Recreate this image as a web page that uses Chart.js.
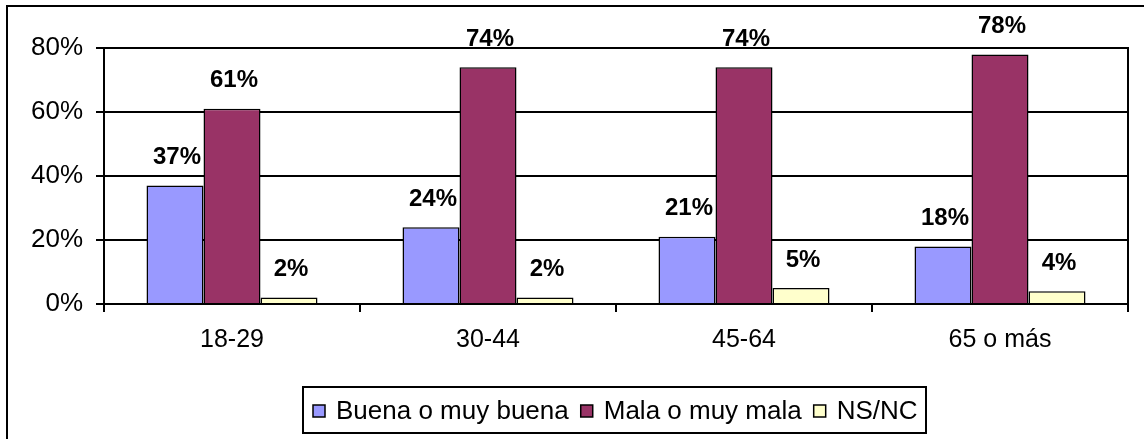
<!DOCTYPE html>
<html>
<head>
<meta charset="utf-8">
<script src="https://cdn.jsdelivr.net/npm/chart.js@4/dist/chart.umd.min.js"></script>
<style>
  html, body { margin: 0; padding: 0; background: #fff; }
  #wrap { width: 1144px; height: 439px; }
</style>
</head>
<body>
<div id="wrap"><canvas id="chart" width="1144" height="439"></canvas></div>
<script>
const categories = ['18-29', '30-44', '45-64', '65 o más'];
const seriesNames = ['Buena o muy buena', 'Mala o muy mala', 'NS/NC'];
const buena = [37, 24, 21, 18];
const mala = [61, 74, 74, 78];
const nsnc = [2, 2, 5, 4];
const yTicks = [0, 20, 40, 60, 80];
const colors = ['#9999FF', '#993366', '#FFFFCC'];

const FONT = 'Arial, "Liberation Sans", sans-serif';

// outer frame, right border of plot, value labels and boxed legend
const extras = {
  id: 'extras',
  beforeDraw(chart) {
    const ctx = chart.ctx;
    ctx.save();
    ctx.fillStyle = '#fff';
    ctx.fillRect(0, 0, chart.width, chart.height);
    ctx.strokeStyle = '#000';
    ctx.lineWidth = 2;
    ctx.strokeRect(7, 6, chart.width + 20, chart.height + 20);
    ctx.restore();
  },
  afterDatasetsDraw(chart) {
    const ctx = chart.ctx;
    const area = chart.chartArea;
    ctx.save();
    ctx.strokeStyle = '#000';
    ctx.lineWidth = 2;
    ctx.beginPath();
    ctx.moveTo(area.right, area.top - 1);
    ctx.lineTo(area.right, area.bottom);
    ctx.stroke();

    ctx.fillStyle = '#000';
    ctx.font = 'bold 24px ' + FONT;
    ctx.textAlign = 'center';
    ctx.textBaseline = 'middle';
    chart.data.datasets.forEach((ds, i) => {
      chart.getDatasetMeta(i).data.forEach((bar, j) => {
        ctx.fillText(ds.data[j] + '%', bar.x + 2, bar.y - 28);
      });
    });

    // legend
    const lx = 303, ly = 387, lw = 623, lh = 46;
    ctx.lineWidth = 2;
    ctx.strokeRect(lx, ly, lw, lh);
    ctx.font = '26px ' + FONT;
    ctx.textAlign = 'left';
    let x = lx + 10;
    const cy = ly + lh / 2 + 1;
    seriesNames.forEach((name, i) => {
      ctx.fillStyle = colors[i];
      ctx.fillRect(x, cy - 6, 12, 12);
      ctx.lineWidth = 1.5;
      ctx.strokeStyle = '#000';
      ctx.strokeRect(x, cy - 6, 12, 12);
      ctx.fillStyle = '#000';
      ctx.fillText(name, x + 23, cy + 1);
      x += 23 + ctx.measureText(name).width + 12;
    });
    ctx.restore();
  }
};

new Chart(document.getElementById('chart'), {
  type: 'bar',
  data: {
    labels: categories,
    datasets: [
      { label: seriesNames[0], data: buena, backgroundColor: colors[0] },
      { label: seriesNames[1], data: mala, backgroundColor: colors[1] },
      { label: seriesNames[2], data: nsnc, backgroundColor: colors[2] }
    ].map(d => Object.assign(d, {
      borderColor: '#000',
      borderWidth: 1.5,
      categoryPercentage: 0.668,
      barPercentage: 1
    }))
  },
  options: {
    responsive: false,
    animation: false,
    events: [],
    layout: { padding: { top: 48, right: 16, bottom: 0, left: 0 } },
    plugins: {
      legend: { display: false },
      tooltip: { enabled: false }
    },
    scales: {
      x: {
        afterFit: s => { s.height = 135; },
        grid: {
          offset: true,
          drawOnChartArea: false,
          drawTicks: true,
          tickLength: 8,
          color: '#000',
          lineWidth: 2
        },
        border: { display: true, color: '#000', width: 2 },
        ticks: {
          color: '#000',
          font: { family: FONT, size: 25 },
          padding: 13
        }
      },
      y: {
        min: 0,
        max: 80,
        afterFit: s => { s.width = 104; },
        afterBuildTicks: s => { s.ticks = yTicks.map(v => ({ value: v })); },
        grid: {
          color: '#000',
          lineWidth: 2,
          tickLength: 8
        },
        border: { display: true, color: '#000', width: 2 },
        ticks: {
          color: '#000',
          font: { family: FONT, size: 26 },
          padding: 13,
          callback: v => v + '%'
        }
      }
    }
  },
  plugins: [extras]
});
</script>
</body>
</html>
